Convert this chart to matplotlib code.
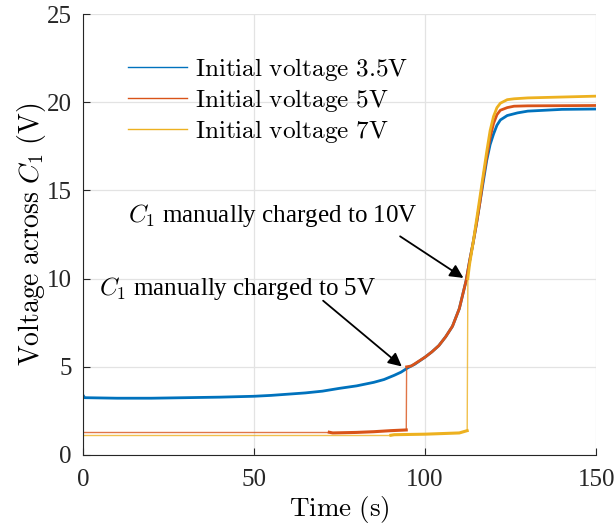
import matplotlib
matplotlib.use("Agg")
import matplotlib.pyplot as plt
from matplotlib.lines import Line2D

plt.rcParams["font.family"] = ["Liberation Serif", "DejaVu Serif"]
plt.rcParams["mathtext.fontset"] = "cm"

t_blue = [0, 0.5, 10, 20, 30, 40, 50, 55, 60, 65, 70, 75, 80, 85, 88, 91, 93, 95,
          97, 100, 102, 104, 106, 108, 110, 111, 112, 113, 114, 115, 116, 117, 118,
          119, 120, 121, 122, 124, 127, 130, 135, 140, 150]
v_blue = [3.40, 3.25, 3.22, 3.22, 3.25, 3.28, 3.33, 3.38, 3.45, 3.52, 3.62, 3.78,
          3.92, 4.12, 4.28, 4.52, 4.70, 4.95, 5.15, 5.55, 5.85, 6.20, 6.70, 7.30,
          8.30, 9.10, 9.90, 11.0, 12.0, 13.1, 14.3, 15.5, 16.7, 17.6, 18.2, 18.7,
          19.0, 19.25, 19.4, 19.5, 19.55, 19.6, 19.62]

t_red = [0, 72, 73, 80, 85, 90, 94.5, 94.6, 96, 100, 102, 104, 106, 108, 110, 111,
         112, 113, 114, 115, 116, 117, 118, 119, 120, 121, 122, 124, 126, 130, 150]
v_red = [1.29, 1.29, 1.25, 1.28, 1.32, 1.38, 1.42, 5.0, 5.05, 5.55, 5.85, 6.20,
         6.70, 7.30, 8.30, 9.10, 9.90, 11.0, 12.0, 13.1, 14.3, 15.7, 16.9, 18.0,
         18.8, 19.3, 19.55, 19.7, 19.78, 19.8, 19.82]

t_yel = [0, 90, 91, 100, 110, 112.3, 112.5, 113, 114, 115, 116, 117, 118, 119, 120,
         121, 122, 124, 126, 130, 140, 150]
v_yel = [1.12, 1.12, 1.15, 1.18, 1.25, 1.38, 10.0, 10.8, 12.0, 13.3, 14.6, 15.9,
         17.2, 18.4, 19.2, 19.7, 19.95, 20.15, 20.2, 20.25, 20.3, 20.35]

labels = [r"$\mathrm{Initial\ voltage\ 3.5V}$",
          r"$\mathrm{Initial\ voltage\ 5V}$",
          r"$\mathrm{Initial\ voltage\ 7V}$"]
colors = ["#0072BD", "#D95319", "#EDB120"]

fig = plt.figure(figsize=(6.14, 5.24), dpi=100)
ax = fig.add_axes([0.135, 0.1317, 0.836, 0.8413])

ax.plot(t_blue, v_blue, color=colors[0], lw=2.0)
# the flat parts before the first real samples look thin; the rest is noisy/thick
ax.plot(t_red[:2], v_red[:2], color=colors[1], lw=1.0, alpha=0.8)
ax.plot(t_red[1:7], v_red[1:7], color=colors[1], lw=2.2)
ax.plot(t_red[6:8], v_red[6:8], color=colors[1], lw=1.0, alpha=0.8)
ax.plot(t_red[7:], v_red[7:], color=colors[1], lw=2.0)
ax.plot(t_yel[:2], v_yel[:2], color=colors[2], lw=1.0, alpha=0.8)
ax.plot(t_yel[1:6], v_yel[1:6], color=colors[2], lw=2.2)
ax.plot(t_yel[5:7], v_yel[5:7], color=colors[2], lw=1.0, alpha=0.8)
ax.plot(t_yel[6:], v_yel[6:], color=colors[2], lw=2.0)

handles = [Line2D([], [], color=c, lw=1.0) for c in colors]
ax.legend(handles, labels, loc="upper left", bbox_to_anchor=(0.088, 0.905),
          frameon=False, fontsize=18.2, handlelength=2.35, handletextpad=0.28,
          labelspacing=0.15, borderaxespad=0, borderpad=0)

arrow = dict(arrowstyle="-|>", color="black", lw=1.3, mutation_scale=20,
             shrinkA=0, shrinkB=0)
ax.text(55.6, 13.2, "$C_1$ manually charged to 10V", fontsize=18,
        ha="center", va="baseline")
ax.annotate("", xy=(111.2, 10.04), xytext=(92.7, 12.4), arrowprops=arrow)
ax.text(45.2, 9.09, "$C_1$ manually charged to 5V", fontsize=18,
        ha="center", va="baseline")
ax.annotate("", xy=(93.2, 5.02), xytext=(70.2, 8.75), arrowprops=arrow)

ax.set_xlim(0, 150)
ax.set_ylim(0, 25)
ax.set_xticks([0, 50, 100, 150])
ax.set_yticks([0, 5, 10, 15, 20, 25])
ax.tick_params(direction="in", length=5, labelsize=18, colors="#262626")
ax.tick_params(axis="x", pad=10)
ax.tick_params(axis="y", pad=8)
for side in ("top", "right"):
    ax.spines[side].set_visible(False)
for side in ("left", "bottom"):
    ax.spines[side].set_color("#262626")
ax.grid(True, color="#E3E3E3", lw=0.9)
ax.set_axisbelow(True)
ax.set_xlabel(r"$\mathrm{Time\ (s)}$", fontsize=19.5, labelpad=2)
ax.set_ylabel(r"$\mathrm{Voltage\ across\ }C_1\mathrm{\ (V)}$", fontsize=20,
              labelpad=-1)

fig.savefig("out.png", dpi=100)
